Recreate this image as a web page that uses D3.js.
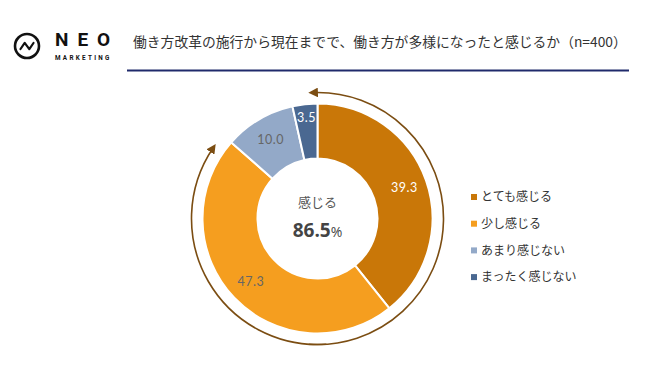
<!DOCTYPE html>
<html>
<head>
<meta charset="utf-8">
<script src="https://cdn.jsdelivr.net/npm/d3@7"></script>
<style>
  body { margin: 0; background: #fff; }
  svg { display: block; }
</style>
</head>
<body>
<svg id="chart" width="645" height="371"></svg>
<script>
// chart data
var categories = ['とても感じる', '少し感じる', 'あまり感じない', 'まったく感じない'];
var values = [39.3, 47.3, 10.0, 3.5];
var colors = ['#c97708', '#f59e1f', '#93a9c8', '#4a6891'];
var labelColors = ['#ffffff', '#666666', '#666666', '#ffffff'];
var titleText = '働き方改革の施行から現在までで、働き方が多様になったと感じるか（n=400）';
var centerLabel = '感じる';
var centerValue = '86.5';

var jp = '"Noto Sans CJK JP", "Noto Sans", sans-serif';
var svg = d3.select('#chart');

// logo
var logo = svg.append('g').attr('transform', 'translate(27,46)');
logo.append('circle').attr('r', 12).attr('fill', 'none')
  .attr('stroke', '#111').attr('stroke-width', 2.6);
logo.append('path').attr('d', 'M-6.5,3 L-2.3,-3.2 L2.3,3.2 L6.5,-3')
  .attr('fill', 'none').attr('stroke', '#111').attr('stroke-width', 2.2)
  .attr('stroke-linejoin', 'round').attr('stroke-linecap', 'round');
svg.append('text').attr('x', 55).attr('y', 46)
  .style('font-family', 'Roboto, sans-serif').style('font-weight', 'bold')
  .style('font-size', '19px').style('letter-spacing', '9px').attr('fill', '#111')
  .text('NEO');
svg.append('text').attr('x', 55).attr('y', 60)
  .style('font-family', 'Roboto, sans-serif').style('font-weight', 'bold')
  .style('font-size', '6.3px').style('letter-spacing', '2.3px').attr('fill', '#111')
  .text('MARKETING');

// title
svg.append('text').attr('x', 133).attr('y', 47)
  .style('font-family', jp).style('font-size', '13.8px').attr('fill', '#333')
  .text(titleText);
svg.append('line').attr('x1', 127).attr('x2', 629).attr('y1', 70.5).attr('y2', 70.5)
  .attr('stroke', '#1f2a6b').attr('stroke-width', 2);

// donut
var cx = 317.5, cy = 218.5, rOuter = 115, rInner = 60;
var g = svg.append('g').attr('transform', 'translate(' + cx + ',' + cy + ')');

var pie = d3.pie().sort(null).value(function(d) { return d; });
var arcs = pie(values);
var arc = d3.arc().innerRadius(rInner).outerRadius(rOuter);

g.selectAll('path.slice').data(arcs).enter()
  .append('path').attr('class', 'slice')
  .attr('d', arc)
  .attr('fill', function(d, i) { return colors[i]; })
  .attr('stroke', '#fff').attr('stroke-width', 2);

g.selectAll('text.val').data(arcs).enter()
  .append('text').attr('class', 'val')
  .attr('transform', function(d) {
    var r = d.data < 5 ? 101 : 92;
    var a = (d.startAngle + d.endAngle) / 2;
    return 'translate(' + (Math.sin(a) * r) + ',' + (-Math.cos(a) * r) + ')';
  })
  .attr('text-anchor', 'middle').attr('dy', '0.35em')
  .style('font-family', 'Lato, sans-serif').style('font-size', '12.5px')
  .style('letter-spacing', '0.5px')
  .attr('fill', function(d, i) { return labelColors[i]; })
  .text(function(d) { return d.data.toFixed(1); });

// center text
g.append('text').attr('y', -12).attr('text-anchor', 'middle')
  .style('font-family', jp).style('font-size', '13px').attr('fill', '#555')
  .text(centerLabel);
var ct = g.append('text').attr('y', 18).attr('text-anchor', 'middle')
  .style('font-family', '"Open Sans", sans-serif').attr('fill', '#444');
ct.append('tspan').style('font-size', '19px').style('font-weight', 'bold').text(centerValue);
ct.append('tspan').style('font-size', '14px').text('%');

// arrows
var arrowColor = '#7b4d12';
svg.append('defs').append('marker').attr('id', 'ah')
  .attr('viewBox', '0 0 10 10').attr('refX', 5).attr('refY', 5)
  .attr('markerWidth', 6).attr('markerHeight', 6).attr('orient', 'auto')
  .append('path').attr('d', 'M0,0 L10,5 L0,10 z').attr('fill', arrowColor);

var rArrow = 126;
function arcPath(a0, a1, sweep) {
  var x0 = Math.sin(a0) * rArrow, y0 = -Math.cos(a0) * rArrow;
  var x1 = Math.sin(a1) * rArrow, y1 = -Math.cos(a1) * rArrow;
  var large = Math.abs(a1 - a0) > Math.PI ? 1 : 0;
  return 'M' + x0 + ',' + y0 + ' A' + rArrow + ',' + rArrow + ' 0 ' + large + ' ' + sweep + ' ' + x1 + ',' + y1;
}
var deg = Math.PI / 180;
g.append('path').attr('d', arcPath(184 * deg, -2 * deg, 0))
  .attr('fill', 'none').attr('stroke', arrowColor).attr('stroke-width', 1.6)
  .attr('marker-end', 'url(#ah)');
g.append('path').attr('d', arcPath(176 * deg, 304 * deg, 1))
  .attr('fill', 'none').attr('stroke', arrowColor).attr('stroke-width', 1.6)
  .attr('marker-end', 'url(#ah)');

// legend
var legend = svg.append('g').attr('transform', 'translate(471,197)');
var rows = legend.selectAll('g').data(categories).enter().append('g')
  .attr('transform', function(d, i) { return 'translate(0,' + (i * 26.7) + ')'; });
rows.append('rect').attr('x', 0).attr('y', -3).attr('width', 6).attr('height', 6)
  .attr('fill', function(d, i) { return colors[i]; });
rows.append('text').attr('x', 10).attr('dy', '0.35em')
  .style('font-family', jp).style('font-size', '12px').attr('fill', '#333')
  .text(function(d) { return d; });
</script>
</body>
</html>
